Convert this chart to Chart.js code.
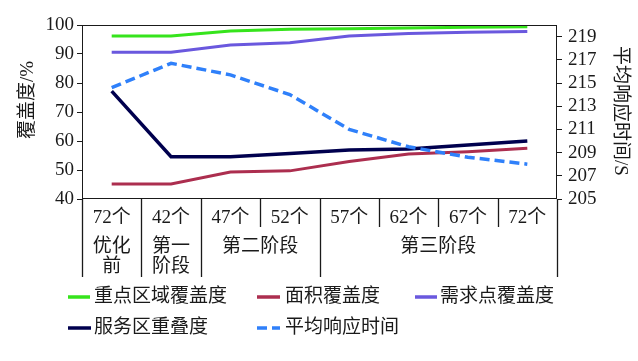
<!DOCTYPE html>
<html><head><meta charset="utf-8">
<script src="https://cdn.jsdelivr.net/npm/chart.js@4/dist/chart.umd.min.js"></script>
<style>html,body{margin:0;padding:0;background:#fff;}#wrap{width:638px;height:361px;position:relative;}</style>
</head><body><div id="wrap"><canvas id="c" width="638" height="361"></canvas></div>
<script>
const categories = ['72个','42个','47个','52个','57个','62个','67个','72个'];
const groupLabels = [['优化','前'],['第一','阶段'],['第二阶段'],['第三阶段']];
const groupSpans = [[0,0],[1,1],[2,3],[4,7]];
const keyAreaCoverage = [96.2,96.2,97.9,98.5,98.7,99.0,99.2,99.4];
const areaCoverage    = [45.2,45.2,49.3,49.7,52.9,55.5,56.3,57.5];
const demandCoverage  = [90.6,90.6,93.1,93.9,96.2,97.1,97.5,97.8];
const serviceOverlap  = [77.2,54.6,54.6,55.7,56.9,57.2,58.6,60.0];
const responseTime    = [214.6,216.7,215.7,214.0,211.0,209.5,208.6,208.0];
const leftTicks  = [40,50,60,70,80,90,100];
const rightTicks = [205,207,209,211,213,215,217,219];
const leftTitle  = '覆盖度/%';
const rightTitle = '平均响应时间/S';
const seriesNames = ['重点区域覆盖度','面积覆盖度','需求点覆盖度','服务区重叠度','平均响应时间'];

const FF = "'Liberation Serif','Noto Sans CJK SC',serif";
const FS = 19;
const INK = '#1a1a1a';

const legendPos = [
  {x1:68, x2:90, tx:94, y:297},
  {x1:257, x2:280, tx:285, y:297},
  {x1:415, x2:437, tx:440, y:297},
  {x1:68, x2:91, tx:94, y:328},
  {x1:257, x2:280, tx:285, y:328}
];

const decor = {
  id: 'decor',
  afterDraw(chart) {
    const {ctx, chartArea: a, scales: {x}} = chart;
    ctx.save();
    ctx.strokeStyle = INK; ctx.lineWidth = 1;
    ctx.strokeRect(a.left + 0.5, a.top + 0.5, a.right - a.left - 1, a.bottom - a.top - 1);
    const c = categories.map((_, i) => x.getPixelForValue(i));
    const edge = i => (i < 0 ? a.left : i >= categories.length - 1 ? a.right : (c[i] + c[i + 1]) / 2);
    const fullAfter = new Set([-1]);
    groupSpans.forEach(s => fullAfter.add(s[1]));
    ctx.lineWidth = 1.3;
    for (let i = -1; i < categories.length; i++) {
      const xx = Math.round(edge(i)) + 0.5;
      const y2 = fullAfter.has(i) ? 277 : 227;
      ctx.beginPath(); ctx.moveTo(xx, a.bottom); ctx.lineTo(xx, y2); ctx.stroke();
    }
    ctx.fillStyle = INK;
    ctx.font = FS + 'px ' + FF;
    ctx.textAlign = 'center'; ctx.textBaseline = 'middle';
    categories.forEach((t, i) => ctx.fillText(t, c[i], 218));
    groupSpans.forEach((s, g) => {
      const cx = (edge(s[0] - 1) + edge(s[1])) / 2;
      groupLabels[g].forEach((ln, k) => ctx.fillText(ln, cx, 247 + k * 20));
    });
    ctx.save(); ctx.translate(28, 100); ctx.rotate(-Math.PI / 2); ctx.fillText(leftTitle, 0, 0); ctx.restore();
    ctx.save(); ctx.translate(620, 111); ctx.rotate(Math.PI / 2); ctx.fillText(rightTitle, 0, 0); ctx.restore();
    ctx.textAlign = 'left';
    chart.data.datasets.forEach((ds, i) => {
      const p = legendPos[i];
      ctx.save();
      ctx.strokeStyle = ds.borderColor; ctx.lineWidth = 3.5;
      ctx.setLineDash(ds.borderDash || []);
      ctx.beginPath(); ctx.moveTo(p.x1, p.y); ctx.lineTo(p.x2, p.y); ctx.stroke();
      ctx.restore();
      ctx.fillText(ds.label, p.tx, p.y);
    });
    ctx.restore();
  }
};

const mk = (label, data, color, axis, extra) => Object.assign({
  label, data, borderColor: color, backgroundColor: color, yAxisID: axis,
  borderWidth: 3, pointRadius: 0, tension: 0, fill: false
}, extra || {});

new Chart(document.getElementById('c'), {
  type: 'line',
  data: {
    labels: categories,
    datasets: [
      mk(seriesNames[0], keyAreaCoverage, '#36E41C', 'y', {order: 3}),
      mk(seriesNames[1], areaCoverage, '#AC2E4F', 'y', {order: 4}),
      mk(seriesNames[2], demandCoverage, '#6A58DE', 'y', {order: 2}),
      mk(seriesNames[3], serviceOverlap, '#00004E', 'y', {order: 5, borderWidth: 3.5}),
      mk(seriesNames[4], responseTime, '#2F80FA', 'y2', {order: 1, borderWidth: 3.5, borderDash: [10, 5]})
    ]
  },
  options: {
    responsive: false, animation: false,
    layout: {padding: {top: 25, bottom: 162, left: 0, right: 0}},
    plugins: {legend: {display: false}, tooltip: {enabled: false}},
    scales: {
      x: {display: false, offset: true},
      y: {
        position: 'left', min: 40, max: 100,
        afterBuildTicks: s => { s.ticks = leftTicks.map(v => ({value: v})); },
        afterFit: s => { s.width = 82; },
        border: {display: false},
        grid: {drawOnChartArea: false, drawTicks: true, tickLength: 5, color: INK},
        ticks: {color: INK, padding: 3, autoSkip: false, font: {family: FF, size: FS}}
      },
      y2: {
        position: 'right', min: 205, max: 220,
        afterBuildTicks: s => { s.ticks = rightTicks.map(v => ({value: v})); },
        afterFit: s => { s.width = 81; },
        border: {display: false},
        grid: {drawOnChartArea: false, drawTicks: true, tickLength: 5, color: INK},
        ticks: {color: INK, padding: 6, autoSkip: false, font: {family: FF, size: FS}}
      }
    }
  },
  plugins: [decor]
});
</script></body></html>
